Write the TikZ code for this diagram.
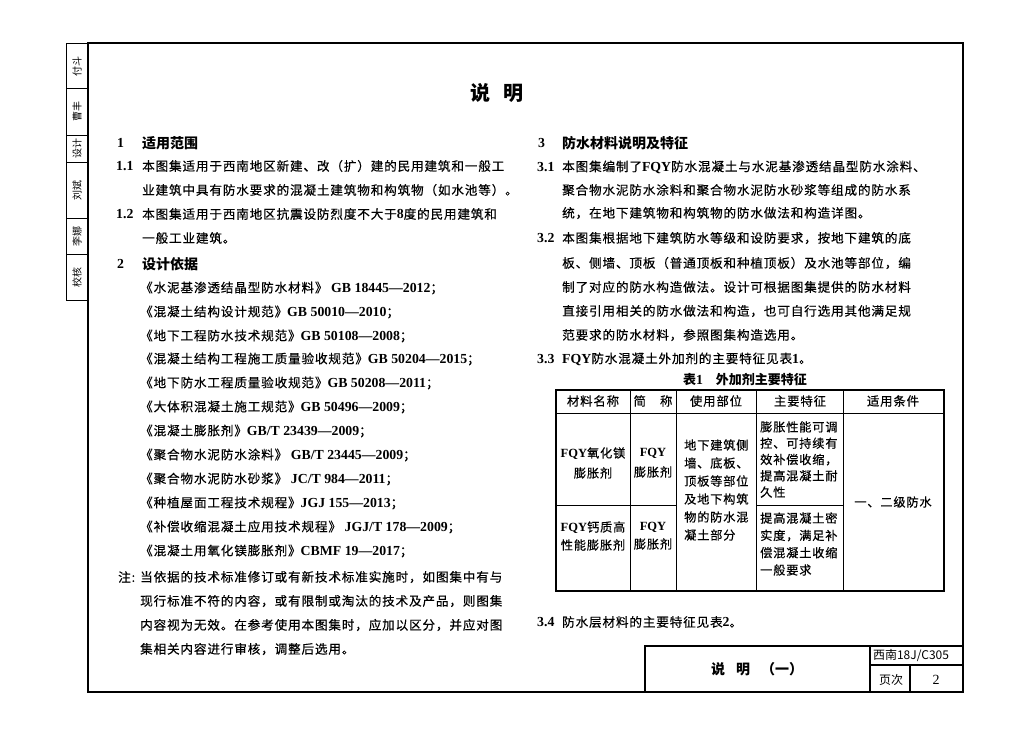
\documentclass[tikz,border=0pt]{standalone}
\usepackage{fontspec}
\setmainfont{Liberation Serif}
\newfontfamily\cjk{Noto Sans CJK SC}[LetterSpace=6.7, FakeBold=0.4]
\newfontfamily\cjkn{Noto Sans CJK SC}
\newfontfamily\latf{Liberation Serif}
\newcommand\lt[1]{{\latf\bfseries\fontsize{13.8}{14}\selectfont #1}}
\newcommand\ltt[1]{{\latf\bfseries\fontsize{12.5}{14}\selectfont #1}}
\tikzset{
  body/.style={anchor=west, inner sep=0pt, font=\cjk\fontsize{12.6}{14}\selectfont},
  num/.style={anchor=west, inner sep=0pt, font=\latf\bfseries\fontsize{13.8}{16}\selectfont},
  head/.style={anchor=west, inner sep=0pt, font=\cjkn\bfseries\fontsize{14}{16}\selectfont},
  cell/.style={inner sep=0pt, font=\cjk\fontsize{12.2}{17.5}\selectfont, align=center},
  cellL/.style={inner sep=0pt, anchor=west, font=\cjk\fontsize{12.2}{17.5}\selectfont, align=left},
  strip/.style={inner sep=0pt, rotate=90, font=\cjkn\fontsize{10}{12}\selectfont},
  frame/.style={line width=2.5pt},
  thin/.style={line width=0.8pt},
  mid/.style={line width=1.5pt},
}
\begin{document}
\begin{tikzpicture}[x=1pt,y=-1pt]
\useasboundingbox (0,0) rectangle (1024,740);
\fill[white] (0,0) rectangle (1024,740);

% frame
\draw[frame] (88,43) rectangle (963,692);
% left strip
\draw[thin] (66,43) rectangle (88,300);
\foreach \yy in {88,135,162,218,254} \draw[thin] (66,\yy) -- (88,\yy);
\node[strip] (s1) at (77,66) {付斗};
\node[strip] (s2) at (77,111) {曹丰};
\node[strip] (s3) at (77,148) {设计};
\node[strip] (s4) at (77,190) {刘斌};
\node[strip] (s5) at (77,236) {李娜};
\node[strip] (s6) at (77,277) {校核};

% title
\node[inner sep=0pt, font=\cjkn\bfseries\fontsize{20}{22}\selectfont] (title) at (497,93) {说\hspace{13pt}明};

% left column
\node[num] (n1) at (117,143) {1};
\node[head] (h1) at (142,143) {适用范围};
\node[num] (n11) at (116,166) {1.1};
\node[body] (a1) at (142,166) {本图集适用于西南地区新建、改（扩）建的民用建筑和一般工};
\node[body] (a2) at (142,190) {业建筑中具有防水要求的混凝土建筑物和构筑物（如水池等）。};
\node[num] (n12) at (116,214) {1.2};
\node[body] (a3) at (142,214) {本图集适用于西南地区抗震设防烈度不大于\lt{8}度的民用建筑和};
\node[body] (a4) at (142,238) {一般工业建筑。};
\node[num] (n2) at (117,264) {2};
\node[head] (h2) at (142,264) {设计依据};
\node[body] (r1) at (140,288) {《水泥基渗透结晶型防水材料》 \lt{GB 18445—2012}；};
\node[body] (r2) at (140,312) {《混凝土结构设计规范》\lt{GB 50010—2010}；};
\node[body] (r3) at (140,336) {《地下工程防水技术规范》\lt{GB 50108—2008}；};
\node[body] (r4) at (140,359) {《混凝土结构工程施工质量验收规范》\lt{GB 50204—2015}；};
\node[body] (r5) at (140,383) {《地下防水工程质量验收规范》\lt{GB 50208—2011}；};
\node[body] (r6) at (140,407) {《大体积混凝土施工规范》\lt{GB 50496—2009}；};
\node[body] (r7) at (140,431) {《混凝土膨胀剂》\lt{GB/T 23439—2009}；};
\node[body] (r8) at (140,455) {《聚合物水泥防水涂料》 \lt{GB/T 23445—2009}；};
\node[body] (r9) at (140,479) {《聚合物水泥防水砂浆》 \lt{JC/T 984—2011}；};
\node[body] (r10) at (140,503) {《种植屋面工程技术规程》\lt{JGJ 155—2013}；};
\node[body] (r11) at (140,527) {《补偿收缩混凝土应用技术规程》 \lt{JGJ/T 178—2009}；};
\node[body] (r12) at (140,551) {《混凝土用氧化镁膨胀剂》\lt{CBMF 19—2017}；};
\node[body] (nt) at (118,577) {注:};
\node[body] (b1) at (140,577) {当依据的技术标准修订或有新技术标准实施时，如图集中有与};
\node[body] (b2) at (140,601) {现行标准不符的内容，或有限制或淘汰的技术及产品，则图集};
\node[body] (b3) at (140,625) {内容视为无效。在参考使用本图集时，应加以区分，并应对图};
\node[body] (b4) at (140,649) {集相关内容进行审核，调整后选用。};

% right column
\node[num] (n3) at (538,143) {3};
\node[head] (h3) at (562,143) {防水材料说明及特征};
\node[num] (n31) at (537,167) {3.1};
\node[body] (c1) at (562,167) {本图集编制了\lt{FQY}防水混凝土与水泥基渗透结晶型防水涂料、};
\node[body] (c2) at (562,190) {聚合物水泥防水涂料和聚合物水泥防水砂浆等组成的防水系};
\node[body] (c3) at (562,213) {统，在地下建筑物和构筑物的防水做法和构造详图。};
\node[num] (n32) at (537,238) {3.2};
\node[body] (c4) at (562,238) {本图集根据地下建筑防水等级和设防要求，按地下建筑的底};
\node[body] (c5) at (562,263) {板、侧墙、顶板（普通顶板和种植顶板）及水池等部位，编};
\node[body] (c6) at (562,287) {制了对应的防水构造做法。设计可根据图集提供的防水材料};
\node[body] (c7) at (562,311) {直接引用相关的防水做法和构造，也可自行选用其他满足规};
\node[body] (c8) at (562,335) {范要求的防水材料，参照图集构造选用。};
\node[num] (n33) at (537,359) {3.3};
\node[body] (c9) at (562,359) {\lt{FQY}防水混凝土外加剂的主要特征见表\lt{1}。};

% table
\node[inner sep=0pt, font=\cjkn\bfseries\fontsize{13}{15}\selectfont] (ttl) at (745,380) {表\lt{1}\hspace{13pt}外加剂主要特征};
\draw[mid] (556,390) rectangle (944,591);
\foreach \xx in {630,676,756,843} \draw[thin] (\xx,390) -- (\xx,591);
\draw[thin] (556,413) -- (944,413);
\draw[thin] (556,505) -- (676,505);
\draw[thin] (756,505) -- (843,505);
\node[cell, font=\cjk\fontsize{12.4}{14}\selectfont] (t1) at (593,401) {材料名称};
\node[cell, font=\cjk\fontsize{12.4}{14}\selectfont] (t2) at (653,401) {简\hspace{14pt}称};
\node[cell, font=\cjk\fontsize{12.4}{14}\selectfont] (t3) at (716,401) {使用部位};
\node[cell, font=\cjk\fontsize{12.4}{14}\selectfont] (t4) at (800,401) {主要特征};
\node[cell, font=\cjk\fontsize{12.4}{14}\selectfont] (t5) at (893,401) {适用条件};
\node[cell, font=\cjk\fontsize{12.2}{20}\selectfont] (u1) at (593,463) {\ltt{FQY}氧化镁\\膨胀剂};
\node[cell, font=\cjk\fontsize{12.2}{20}\selectfont] (u2) at (653,463) {\ltt{FQY}\\膨胀剂};
\node[cell, font=\cjk\fontsize{12.2}{18}\selectfont] (v1) at (593,536) {\ltt{FQY}钙质高\\性能膨胀剂};
\node[cell, font=\cjk\fontsize{12.2}{18}\selectfont] (v2) at (653,536) {\ltt{FQY}\\膨胀剂};
\node[cellL, font=\cjk\fontsize{12.2}{18}\selectfont] (w1) at (684,490) {地下建筑侧\\墙、底板、\\顶板等部位\\及地下构筑\\物的防水混\\凝土部分};
\node[cellL, font=\cjk\fontsize{12.2}{16.3}\selectfont] (x1) at (760,459.5) {膨胀性能可调\\控、可持续有\\效补偿收缩，\\提高混凝土耐\\久性};
\node[cellL, font=\cjk\fontsize{12.2}{17.3}\selectfont] (x2) at (760,544) {提高混凝土密\\实度，满足补\\偿混凝土收缩\\一般要求};
\node[cell] (y1) at (893,502) {一、二级防水};

\node[num] (n34) at (537,622) {3.4};
\node[body] (c10) at (562,622) {防水层材料的主要特征见表\lt{2}。};

% title block
\draw[mid] (645,692) -- (645,646) -- (963,646);
\draw[mid] (870,646) -- (870,692);
\draw[mid] (870,665) -- (963,665);
\draw[mid] (910,665) -- (910,692);
\node[inner sep=0pt, font=\cjkn\bfseries\fontsize{14}{16}\selectfont] (tb1) at (757,669) {说\hspace{11pt}明\hspace{11pt}（一）};
\node[inner sep=0pt, font=\cjkn\fontsize{12}{14}\selectfont] (tb2) at (911,656) {西南18J/C305};
\node[inner sep=0pt, font=\cjkn\fontsize{12}{14}\selectfont] (tb3) at (891,680) {页次};
\node[inner sep=0pt, font=\latf\fontsize{14}{16}\selectfont] (tb4) at (936,680) {2};
\end{tikzpicture}
\end{document}
